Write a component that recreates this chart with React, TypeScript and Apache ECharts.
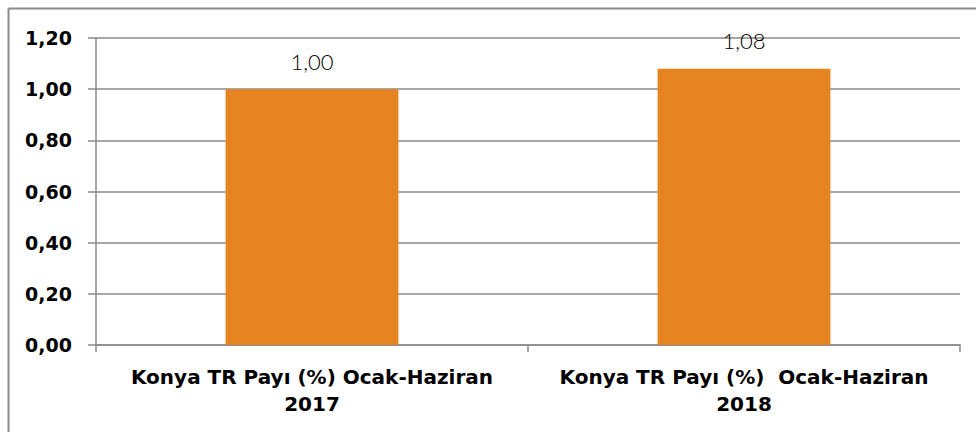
import React, { useEffect, useRef } from "react";
import * as echarts from "echarts";

const categories = [
  "Konya TR Payı (%) Ocak-Haziran\n2017",
  "Konya TR Payı (%)  Ocak-Haziran\n2018",
];
const values = [1.0, 1.08];
const yTicks = { min: 0, max: 1.2, interval: 0.2 };

const fmt = (v: number) => v.toFixed(2).replace(".", ",");

export default function App() {
  const ref = useRef<HTMLDivElement>(null);
  useEffect(() => {
    if (!ref.current) return;
    const chart = echarts.init(ref.current, undefined, { renderer: "svg" });
    const gray = "#8a8a8a";
    chart.setOption({
      animation: false,
      backgroundColor: "#ffffff",
      grid: { left: 96, right: 16, top: 38, bottom: 87, containLabel: false },
      graphic: [
        { type: "line", shape: { x1: 8.5, y1: 8.5, x2: 976, y2: 8.5 }, style: { stroke: gray, lineWidth: 2 } },
        { type: "line", shape: { x1: 8.5, y1: 8.5, x2: 8.5, y2: 432 }, style: { stroke: gray, lineWidth: 2 } },
      ],
      xAxis: {
        type: "category",
        data: categories,
        axisLine: { show: true, lineStyle: { color: gray, width: 1.5 } },
        axisTick: { show: true, length: 7, lineStyle: { color: gray, width: 1.5 } },
        axisLabel: {
          color: "#000",
          fontFamily: "DejaVu Sans",
          fontWeight: "bold",
          fontSize: 20,
          lineHeight: 27,
          margin: 18,
          interval: 0,
        },
      },
      yAxis: {
        type: "value",
        min: yTicks.min,
        max: yTicks.max,
        interval: yTicks.interval,
        axisLine: { show: true, lineStyle: { color: gray, width: 1.5 } },
        axisTick: { show: true, length: 8, lineStyle: { color: gray, width: 1.5 } },
        splitLine: { show: true, lineStyle: { color: gray, width: 1.5 } },
        axisLabel: {
          color: "#000",
          fontFamily: "DejaVu Sans",
          fontWeight: "bold",
          fontSize: 19,
          margin: 24,
          formatter: (v: number) => fmt(v),
        },
      },
      series: [
        {
          type: "bar",
          data: values,
          barWidth: "40%",
          itemStyle: { color: "#E68422" },
          label: {
            show: true,
            position: "top",
            distance: 17,
            color: "#000",
            fontFamily: "Lato",
            fontWeight: 300,
            fontSize: 22,
            formatter: (p: any) => fmt(p.value),
          },
        },
      ],
    });
    return () => chart.dispose();
  }, []);
  return (
    <div
      ref={ref}
      style={{ position: "absolute", left: 0, top: 0, width: 976, height: 432 }}
    />
  );
}
